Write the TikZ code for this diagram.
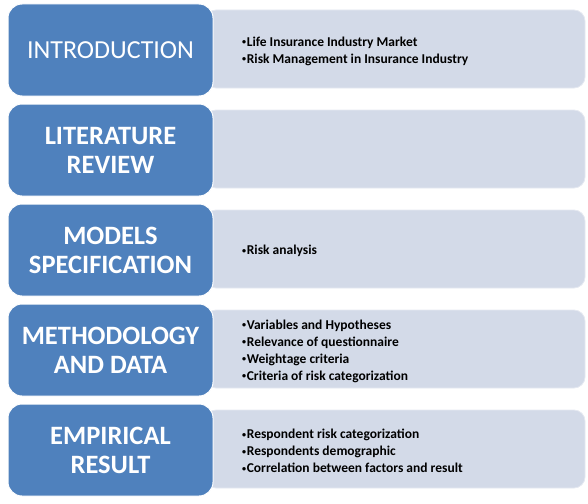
\documentclass[tikz,border=0pt]{standalone}
\usepackage{graphicx}
\usepackage{fontspec}
\setmainfont{Carlito}
\definecolor{headblue}{HTML}{4F81BD}
\definecolor{panelgray}{HTML}{D3DAE8}
% small list bullet
\newcommand{\itemdot}{\raisebox{0.2ex}{\scalebox{0.6}{•}}\hspace{0.6pt}}
\begin{document}
\begin{tikzpicture}[x=1pt,y=-1pt,
  headbox/.style={draw=white, line width=1pt, fill=headblue, rounded corners=14pt,
    minimum width=205pt, minimum height=92pt, inner sep=0pt,
    text=white, align=center, font=\fontsize{26.5}{29}\selectfont\bfseries},
  panel/.style={draw=panelgray!60!white, line width=0.8pt, fill=panelgray, rounded corners=11pt,
    minimum width=380pt, minimum height=78pt, inner sep=0pt},
  items/.style={anchor=west, align=left, inner sep=0pt,
    font=\fontsize{13.5}{17}\selectfont\bfseries}]
\useasboundingbox (0,0) rectangle (588,503);

% right-hand panels (drawn first, they sit behind the headings)
\foreach \k in {0,...,4}{
  \node[panel] (p\k) at (395,{49+100*\k}) {};
}

% section headings
\node[headbox, font=\fontsize{26}{29}\selectfont] (h0) at (110.5,50) {INTRODUCTION};
\node[headbox] (h1) at (110.5,150) {LITERATURE\\REVIEW};
\node[headbox] (h2) at (110.5,250) {MODELS\\SPECIFICATION};
\node[headbox] (h3) at (110.5,350) {METHODOLOGY\\AND DATA};
\node[headbox] (h4) at (110.5,450) {EMPIRICAL\\RESULT};

% bullet lists
\node[items] (t0) at (242,51) {\itemdot Life Insurance Industry Market\\\itemdot Risk Management in Insurance Industry};
\node[items] (t2) at (242,251) {\itemdot Risk analysis};
\node[items] (t3) at (242,351) {\itemdot Variables and Hypotheses\\\itemdot Relevance of questionnaire\\\itemdot Weightage criteria\\\itemdot Criteria of risk categorization};
\node[items] (t4) at (242,451) {\itemdot Respondent risk categorization\\\itemdot Respondents demographic\\\itemdot Correlation between factors and result};
\end{tikzpicture}
\end{document}
